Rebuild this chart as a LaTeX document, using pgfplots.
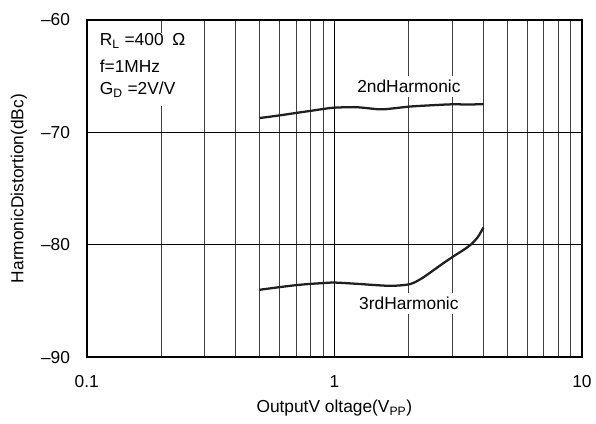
\documentclass[border=0pt]{standalone}
\usepackage{fontspec}
\setmainfont{Liberation Sans}
\usepackage{pgfplots}
\pgfplotsset{compat=1.18}
\begin{document}
\begin{tikzpicture}[font=\fontsize{13}{15}\selectfont]
\begin{axis}[
  scale only axis,
  width=371.25pt, height=252.75pt,
  xmode=log,
  xmin=0.1, xmax=10, ymin=-90, ymax=-60,
  xtick={0.1,1,10}, xticklabels={0.1,1,10},
  ytick={-90,-80,-70,-60}, yticklabels={–90,–80,–70,–60},
  major tick length=0pt, minor tick length=0pt,
  xmajorgrids, xminorgrids, ymajorgrids,
  major grid style={black, line width=0.6pt},
  minor grid style={black!75, line width=0.6pt},
  axis line style={line width=1.5pt},
  xticklabel style={yshift=-10pt, font=\fontsize{13}{15}\selectfont},
  yticklabel style={xshift=-9pt, font=\fontsize{13}{15}\selectfont},
  xlabel={OutputV oltage(V\textsubscript{PP})},
  ylabel={HarmonicDistortion(dBc)},
  xlabel style={at={(axis description cs:0.5,-0.15)}, anchor=center, font=\fontsize{13}{15}\selectfont},
  ylabel style={at={(axis description cs:-0.137,0.5)}, anchor=center, font=\fontsize{13}{15}\selectfont},
]
\addplot[smooth, tension=0.5, line width=1.7pt, color=black!88] coordinates {
(0.5,-68.72)(0.6,-68.49)(0.7,-68.27)(0.81,-68.07)(0.9,-67.92)(1.0,-67.8)(1.23,-67.76)(1.53,-67.95)(1.75,-67.85)(2.02,-67.7)(2.5,-67.58)(3.0,-67.5)(3.5,-67.52)(4.0,-67.48)
};
\addplot[smooth, tension=0.5, line width=1.7pt, color=black!88] coordinates {
(0.5,-84.0)(0.6,-83.77)(0.7,-83.59)(0.81,-83.47)(0.9,-83.41)(1.0,-83.36)(1.23,-83.47)(1.5,-83.6)(1.72,-83.65)(2.02,-83.5)(2.25,-83.0)(2.5,-82.3)(2.75,-81.65)(3.02,-81.04)(3.3,-80.5)(3.55,-80.0)(3.8,-79.3)(4.0,-78.46)
};
\fill[white] (axis description cs:0.006,0.961) rectangle (axis description cs:0.21,0.745);
\node[anchor=base west, inner sep=0pt] at (axis description cs:0.026,0.923) {R\textsubscript{L} =400\enspace Ω};
\node[anchor=base west, inner sep=0pt] at (axis description cs:0.026,0.843) {f=1MHz};
\node[anchor=base west, inner sep=0pt] at (axis description cs:0.026,0.780) {G\textsubscript{D} =2V/V};
\node[fill=white, inner sep=3pt] at (axis cs:2.0,-65.9) {2ndHarmonic};
\node[fill=white, inner sep=3pt] at (axis cs:2.0,-85.2) {3rdHarmonic};
\end{axis}
\pgfresetboundingbox
\useasboundingbox ([shift={(-65pt,-50pt)}]current axis.south west) rectangle ([shift={(10.5pt,15pt)}]current axis.north east);
\end{tikzpicture}
\end{document}
